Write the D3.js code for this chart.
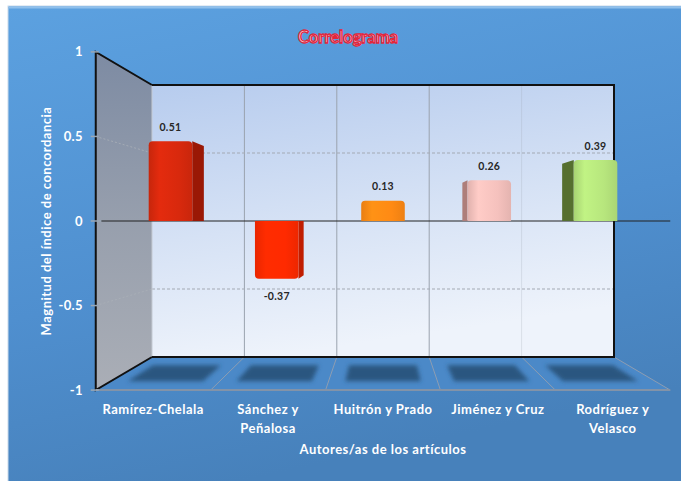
<!DOCTYPE html>
<html>
<head>
<meta charset="utf-8">
<script src="https://cdn.jsdelivr.net/npm/d3@7"></script>
<style>
  body { margin: 0; background: #fff; }
  svg { display: block; }
</style>
</head>
<body>
<script>
// chart data
const categories = ["Ramírez-Chelala", "Sánchez y Peñalosa", "Huitrón y Prado", "Jiménez y Cruz", "Rodríguez y Velasco"];
const tickLines = [["Ramírez-Chelala"], ["Sánchez y", "Peñalosa"], ["Huitrón y Prado"], ["Jiménez y Cruz"], ["Rodríguez y", "Velasco"]];
const values = [0.51, -0.37, 0.13, 0.26, 0.39];
const yTicks = [-1, -0.5, 0, 0.5, 1];
const gridValues = [-0.5, 0.5];
const titleText = "Correlograma";
const yTitle = "Magnitud del índice de concordancia";
const xTitle = "Autores/as de los artículos";

// bar colours (front face / side face)
const barFront = ["#d8290d", "#ff2a00", "#ff8a14", "#f5c1bd", "#b7e67d"];
const barSide = ["#9a1805", "#c01d00", "#c86608", "#ae7e7a", "#566f2f"];

const width = 681, height = 481;
const font = "Lato, 'Open Sans', sans-serif";
// plain hyphen for negatives, like the original
const loc = d3.formatLocale({ decimal: ".", thousands: ",", grouping: [3], currency: ["", ""], minus: "-" });
const fmtTick = loc.format("");
const fmtVal = loc.format(".2f");

const svg = d3.select("body").append("svg")
  .attr("width", width)
  .attr("height", height);
const defs = svg.append("defs");

// back wall scales, everything else is projected from them
const xCell = d3.scaleBand().domain(categories).range([152, 614]);
const xBar = d3.scaleBand().domain(categories).range([152, 614])
  .paddingInner(0.59).paddingOuter(0.295);
const yWall = d3.scaleLinear().domain([-1, 1]).range([357, 85]);
const depth = d3.scaleLinear().domain([0, 1]).range([1, 1.2435]); // 0 = back wall, 1 = front edge
const vx = (xCell.range()[0] + xCell.range()[1]) / 2, vy = yWall(0);

function proj(x, y, d) {
  const f = depth(d);
  return [vx + (x - vx) * f, vy + (y - vy) * f];
}

// gradients
function linGrad(id, x1, y1, x2, y2, stops) {
  const g = defs.append("linearGradient").attr("id", id)
    .attr("x1", x1).attr("y1", y1).attr("x2", x2).attr("y2", y2);
  stops.forEach(s => g.append("stop").attr("offset", s[0]).attr("stop-color", s[1]));
}
linGrad("bg", 0, 0, 0.3, 1, [[0, "#5ca1e0"], [0.6, "#4f8fcf"], [1, "#4781bb"]]);
linGrad("wall", 0, 0, 0.25, 1, [[0, "#b7ccee"], [0.55, "#d6e2f5"], [1, "#eef3fb"]]);
linGrad("side", 0, 0, 0, 1, [[0, "#7d8ba3"], [0.5, "#979fad"], [1, "#aaaeb6"]]);
barFront.forEach((c, i) => {
  const col = d3.color(c);
  linGrad("bar" + i, 0, 0, 1, 0, [
    [0, col.darker(0.25)], [0.25, col.brighter(0.15)], [0.7, c], [1, col.darker(0.2)]
  ]);
});
defs.append("filter").attr("id", "blur").attr("x", -0.3).attr("y", -0.5)
  .attr("width", 1.6).attr("height", 2)
  .append("feGaussianBlur").attr("stdDeviation", 2.2);

// background frame
svg.append("rect")
  .attr("x", 8).attr("y", 6).attr("width", width).attr("height", height)
  .attr("fill", "url(#bg)")
  .attr("stroke", "#c9d9ea").attr("stroke-width", 1);
svg.append("line")
  .attr("x1", 9).attr("x2", width).attr("y1", 7.5).attr("y2", 7.5)
  .attr("stroke", "#8fc0ec").attr("stroke-width", 2);

// title
svg.append("text")
  .attr("x", 348).attr("y", 43)
  .attr("text-anchor", "middle")
  .attr("font-family", font).attr("font-weight", "bold").attr("font-size", 16.5)
  .attr("fill", "#f6d6dc").attr("stroke", "#e2263c").attr("stroke-width", 1.3)
  .text(titleText);

// side wall and floor
const sidePts = [proj(152, yWall(1), 1), proj(152, yWall(1), 0), proj(152, yWall(-1), 0), proj(152, yWall(-1), 1)];
svg.append("path").attr("d", d3.line()(sidePts) + "Z").attr("fill", "url(#side)");

const floorPts = [proj(152, yWall(-1), 0), proj(614, yWall(-1), 0), proj(614, yWall(-1), 1), proj(152, yWall(-1), 1)];
svg.append("path").attr("d", d3.line()(floorPts) + "Z").attr("fill", "#4b89c8");

// back wall
svg.append("rect")
  .attr("x", 152).attr("y", yWall(1))
  .attr("width", 614 - 152).attr("height", yWall(-1) - yWall(1))
  .attr("fill", "url(#wall)");

// category dividers on the wall and the floor
const bounds = categories.slice(1).map(c => xCell(c));
svg.append("g").selectAll("line").data(bounds).join("line")
  .attr("x1", d => d).attr("x2", d => d)
  .attr("y1", yWall(1)).attr("y2", yWall(-1))
  .attr("stroke", "#9aa3ae").attr("stroke-width", 1)
  .attr("opacity", (d, i) => i === 3 ? 0.25 : 1);
svg.append("g").selectAll("line").data(bounds.concat([614])).join("line")
  .each(function(d) {
    const a = proj(d, yWall(-1), 0), b = proj(d, yWall(-1), 1);
    d3.select(this).attr("x1", a[0]).attr("y1", a[1]).attr("x2", b[0]).attr("y2", b[1]);
  })
  .attr("stroke", "#8d9db2").attr("stroke-width", 1);

// dashed gridlines
svg.append("g").selectAll("line").data(gridValues).join("line")
  .attr("x1", 152).attr("x2", 614)
  .attr("y1", d => yWall(d)).attr("y2", d => yWall(d))
  .attr("stroke", "#a3aab3").attr("stroke-width", 1.2).attr("stroke-dasharray", "3,2");
svg.append("g").selectAll("line").data(gridValues).join("line")
  .each(function(d) {
    const a = proj(152, yWall(d), 1);
    d3.select(this).attr("x1", a[0]).attr("y1", a[1]).attr("x2", 152).attr("y2", yWall(d));
  })
  .attr("stroke", "#aab0b8").attr("stroke-width", 0.8).attr("stroke-dasharray", "2,2");

// corner between side wall and back wall
svg.append("line")
  .attr("x1", 152).attr("x2", 152).attr("y1", yWall(1)).attr("y2", yWall(-1))
  .attr("stroke", "#c4cad3").attr("stroke-width", 1);

// wall outlines
svg.append("path")
  .attr("d", `M152,${yWall(-1)}H614V${yWall(1)}H152`)
  .attr("fill", "none").attr("stroke", "#111").attr("stroke-width", 2);
svg.append("path")
  .attr("d", d3.line()([sidePts[1], sidePts[0], sidePts[3], sidePts[2]]))
  .attr("fill", "none").attr("stroke", "#111").attr("stroke-width", 2);
svg.append("line")
  .attr("x1", floorPts[3][0]).attr("x2", floorPts[2][0])
  .attr("y1", floorPts[3][1]).attr("y2", floorPts[2][1])
  .attr("stroke", "#8393a8").attr("stroke-width", 2);

// left axis ticks + labels
const yAxisG = svg.append("g");
yAxisG.selectAll("line").data(yTicks).join("line")
  .each(function(d) {
    const p = proj(152, yWall(d), 1);
    d3.select(this).attr("x1", p[0] - 5).attr("x2", p[0] + (d === 0 ? 6 : 3))
      .attr("y1", p[1]).attr("y2", p[1]);
  })
  .attr("stroke", "#9aa6b4").attr("stroke-width", 1.5);
yAxisG.selectAll("text").data(yTicks).join("text")
  .attr("x", d => proj(152, yWall(d), 1)[0] - 13)
  .attr("y", d => proj(152, yWall(d), 1)[1])
  .attr("dy", "0.35em")
  .attr("text-anchor", "end")
  .attr("font-family", font).attr("font-weight", "bold").attr("font-size", 13)
  .attr("letter-spacing", 0.3)
  .attr("fill", "#fff")
  .text(d => fmtTick(d));

// zero line
const z0 = proj(152, yWall(0), 0.9), z1 = proj(614, yWall(0), 1);
svg.append("line")
  .attr("x1", z0[0]).attr("x2", z1[0]).attr("y1", z0[1]).attr("y2", z1[1])
  .attr("stroke", "#222").attr("stroke-width", 1.2);

// floor shadows
const bw = xBar.bandwidth();
svg.append("g").attr("filter", "url(#blur)")
  .selectAll("path").data(categories).join("path")
  .attr("d", c => {
    const m = xBar(c) + bw / 2;
    return d3.line()([
      proj(m - 32, yWall(-1), 0.25), proj(m + 32, yWall(-1), 0.25),
      proj(m + 32, yWall(-1), 0.73), proj(m - 32, yWall(-1), 0.73)
    ]) + "Z";
  })
  .attr("fill", "#2a5680");

// bars
const dFront = 0.616, dBack = 0.329;
function roundEnd(x0, x1, yb, ye, r) {
  const s = ye < yb ? 1 : -1;
  return `M${x0},${yb}V${ye + s * r}Q${x0},${ye} ${x0 + r},${ye}H${x1 - r}Q${x1},${ye} ${x1},${ye + s * r}V${yb}Z`;
}
const bars = svg.append("g").selectAll("g").data(values).join("g");
bars.each(function(v, i) {
  const g = d3.select(this);
  const c = categories[i];
  const x0 = xBar(c), x1 = x0 + bw;
  const y0 = yWall(0), yv = yWall(v);
  // side face (towards the centre of the view)
  let edge = null;
  if (x1 < vx - 1) edge = x1;
  else if (x0 > vx + 1) edge = x0;
  if (edge !== null) {
    const pts = [proj(edge, y0, dFront), proj(edge, yv, dFront), proj(edge, yv, dBack), proj(edge, y0, dBack)];
    g.append("path").attr("d", d3.line()(pts) + "Z").attr("fill", barSide[i]);
  }
  const a = proj(x0, yv, dFront), b = proj(x1, y0, dFront);
  g.append("path")
    .attr("d", roundEnd(a[0], b[0], b[1], a[1], 4))
    .attr("fill", `url(#bar${i})`);
});

// value labels
svg.append("g").selectAll("text").data(values).join("text")
  .attr("x", (v, i) => proj(xBar(categories[i]) + bw / 2, yWall(v), dFront)[0])
  .attr("y", (v, i) => proj(xBar(categories[i]) + bw / 2, yWall(v), dFront)[1] + (v < 0 ? 17 : -14))
  .attr("dy", "0.35em")
  .attr("text-anchor", "middle")
  .attr("font-family", font).attr("font-size", 10.5).attr("font-weight", "bold")
  .attr("letter-spacing", 0.3)
  .attr("fill", "#262626")
  .text(v => fmtVal(v));

// category labels
const xLabels = svg.append("g").selectAll("text").data(categories).join("text")
  .attr("x", c => proj(xCell(c) + xCell.bandwidth() / 2, yWall(-1), 1)[0])
  .attr("y", 414)
  .attr("text-anchor", "middle")
  .attr("font-family", font).attr("font-weight", "bold").attr("font-size", 13)
  .attr("letter-spacing", 0.5)
  .attr("fill", "#fff");
xLabels.selectAll("tspan").data((c, i) => tickLines[i]).join("tspan")
  .attr("x", function() { return d3.select(this.parentNode).attr("x"); })
  .attr("dy", (d, j) => j === 0 ? 0 : 18.5)
  .text(d => d);

// axis titles
svg.append("text")
  .attr("x", 383).attr("y", 454)
  .attr("text-anchor", "middle")
  .attr("font-family", font).attr("font-weight", "bold").attr("font-size", 13)
  .attr("letter-spacing", 0.5)
  .attr("fill", "#fff")
  .text(xTitle);
svg.append("text")
  .attr("transform", "translate(51,221) rotate(-90)")
  .attr("text-anchor", "middle")
  .attr("font-family", font).attr("font-weight", "bold").attr("font-size", 13)
  .attr("letter-spacing", 0.5)
  .attr("fill", "#fff")
  .text(yTitle);
</script>
</body>
</html>
